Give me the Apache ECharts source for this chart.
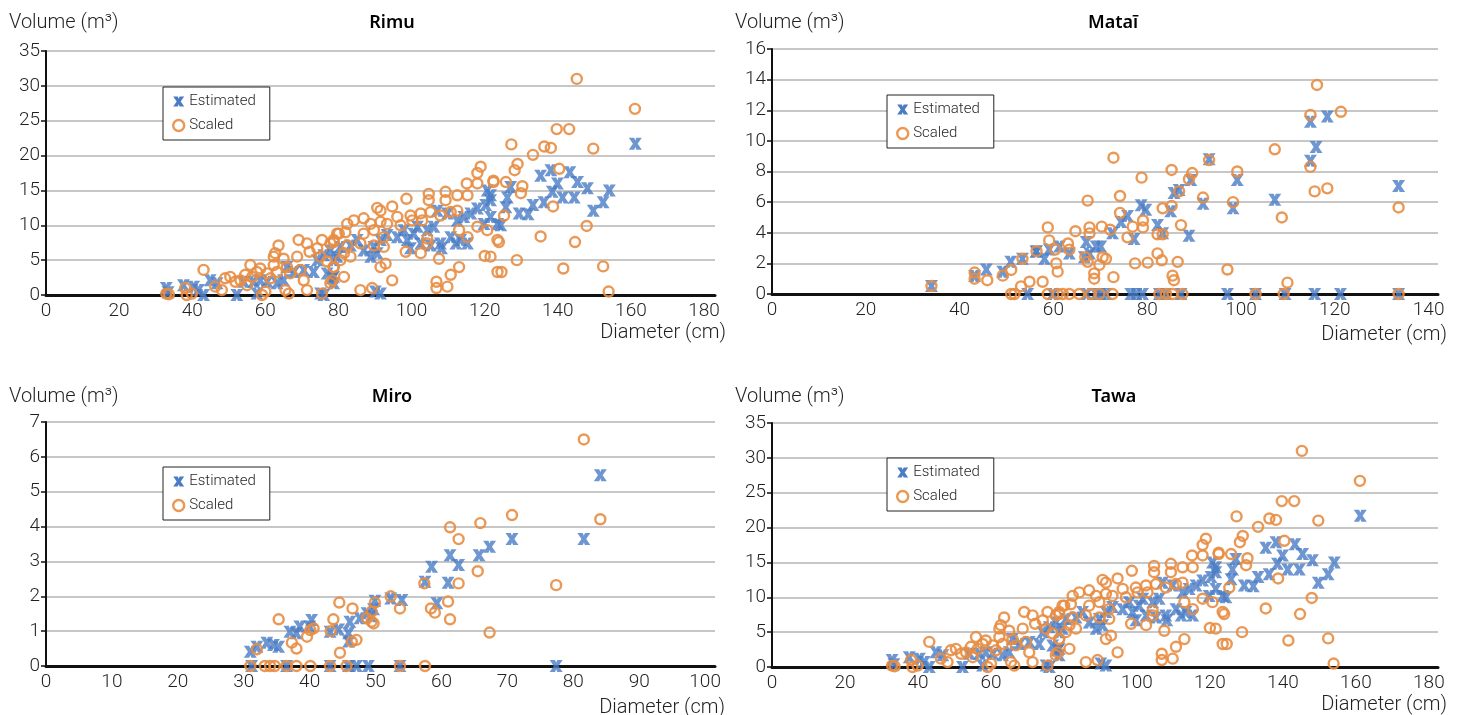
<!DOCTYPE html>
<html lang="en">
<head>
<meta charset="utf-8">
<title>Volume vs diameter</title>
<script src="https://cdn.jsdelivr.net/npm/echarts@6/dist/echarts.min.js"></script>
<style>
    html, body { margin: 0; padding: 0; background: #fff; }
    #main { width: 1464px; height: 715px; }
</style>
</head>
<body>
<div id="main"></div>
<script>
// [diameter (cm), volume (m3)] pairs
// Rimu and Tawa panels show the same points in the source figure
var rimuEstimated = [
    [161.2,21.7],[135.3,17.1],[138.1,17.9],[143.3,17.6],[139.9,16.0],[145.4,16.2],[148.1,15.3],[154.1,15.0],
    [138.5,14.8],[141.3,14.0],[144.5,14.0],[136.2,13.3],[133.2,12.9],[152.4,13.3],[149.7,12.1],[129.4,11.7],
    [131.9,11.6],[126.2,14.0],[127.1,15.5],[125.8,12.6],[124.4,10.0],[121.6,13.6],
    [120.7,15.0],[121.6,14.3],[120.3,12.9],[118,12.4],[116.2,11.7],[121.6,11.2],[123.5,10.2],[119.8,10.2],
    [114.3,11.2],[112.5,10.7],[109.8,11.7],[107,12.1],[106.1,9.8],[104.3,9.3],[101.6,9.8],[100.6,8.8],
    [97.9,9.3],[96.1,8.3],[98.8,7.9],[115.3,7.4],[113.4,7.9],[110.7,8.3],[107.9,7.4],[105.2,7.1],[108.2,6.7],
    [93.3,8.6],[91.5,7.9],[89.7,6.9],[86.9,6.4],[85.1,7.9],[83.3,7.1],[88.8,5.5],[90.6,6.0],[80.5,6.9],
    [77.8,6.4],[79.6,5.5],[78.7,2.6],[90.1,0.5],[91.5,0.2],[99.7,6.7],[102.5,7.4],[112.1,7.4],
    [32.9,1.0],[37.6,1.4],[40.4,1.2],[41.7,0.7],[43.1,0],[44.9,2.1],[46.8,1.7],[57.7,0.2],[52.2,0],
    [54.1,1.9],[56.8,1.9],[58.6,2.1],[60.5,1.9],[63.2,1.7],[65,2.1],[65.9,4.0],[67.8,3.3],[70.5,3.6],
    [73.2,3.3],[74.2,5.0],[76.9,3.1],[76,5.7],[78.7,5.0],[78.3,2.4],[78.7,1.7],[75.1,0.2],[76,0],[33.4,0.4]
];
var rimuScaled = [
    [145.2,31.0],[161.1,26.7],[139.7,23.8],[143.1,23.8],[127.3,21.6],[136.3,21.3],[138.1,21.1],[149.7,21.0],
    [133.2,20.1],[129,18.8],[128.2,17.9],[140.4,18.1],[122.4,16.2],[125.8,16.2],[130.3,15.6],[129.9,14.6],
    [138.7,12.7],[125.3,11.4],[147.9,9.9],[135.3,8.4],[123.9,7.6],[144.7,7.6],[121.6,5.5],[128.8,5.0],
    [124.6,3.3],[141.5,3.8],[152.4,4.1],[153.9,0.5],
    [118.9,18.4],[118,17.5],[115.1,16.0],[118,16.0],[122.4,16.4],[104.7,14.5],[104.7,13.6],[109.3,14.8],
    [109.3,13.6],[112.5,14.3],[115.3,14.3],[98.6,13.8],[94.7,12.7],[90.6,12.5],[91.5,12.1],[99.7,11.4],
    [102.5,11.7],[105.2,11.9],[86.9,11.0],[84.2,10.7],[82.4,10.2],[88.8,10.2],[91.5,10.5],[93.3,10.2],
    [96.1,11.2],[97,10],[100.2,10.7],[102.9,10.7],[110.7,11.9],[112.5,12.1],[107.9,11.4],[79.6,8.8],
    [81.9,9.0],[78.7,7.6],[86.9,8.8],[89.7,9.3],[92.4,8.3],[86,7.4],[89.7,7.1],[92.4,6.9],[82.4,7.1],
    [81.5,6.0],[83.3,5.5],[98.4,6.2],[102.5,6.0],[104.3,8.1],[104.3,7.4],[107.5,5.2],[113,9.3],[115.3,8.3],
    [118,9.8],[120.7,9.3],[123.5,7.9],[120,5.6],[123.5,3.3],[113,4.0],[110.7,2.9],[109.8,1.2],[106.8,1.9],
    [106.8,1.0],[94.7,2.1],[91.5,4.0],[92.9,4.5],[86,0.7],[89.2,1.0],[81.5,2.6],[77.8,1.7],[78.7,4.0],[80.5,5.0],
    [32.9,0.2],[38.1,1.0],[39.9,0.2],[38.5,0],[43.1,3.6],[46.3,1.2],[48.1,0.7],[49,2.4],[50.4,2.6],[51.8,1.9],
    [53.2,2.1],[54.5,2.9],[55,1.4],[56.4,2.6],[57.7,3.3],[55.9,4.3],[58.6,3.8],[60.5,3.1],[61.4,2.4],[60,0.5],
    [59.1,0],[62.3,4.3],[63.2,3.3],[62.3,5.5],[63.6,7.1],[62.7,6.0],[65,5.2],[65.9,4.0],[66.8,3.1],[65.5,0.7],
    [66.4,0.2],[68.7,5.5],[69.1,7.9],[71.4,7.4],[72.1,6.2],[69.6,3.6],[70.5,2.1],[71.4,0.7],[74.2,6.7],
    [75.5,7.9],[77.8,7.4],[78.7,7.9],[75.1,5.5],[76.9,4.8],[78.7,4.0],[78.3,2.1],[80.1,8.8],[75.5,0.2],[33.6,0.1]
];
var tawaEstimated = rimuEstimated;
var tawaScaled = rimuScaled;

var mataiEstimated = [
    [34,0.52],[43.2,1.18],[45.7,1.6],[49.2,1.46],[50.9,2.1],[53.4,2.3],[56.4,2.8],[56.3,2.76],[58.1,2.3],
    [59.1,2.9],[61.3,3.1],[63.4,2.65],[66.6,2.4],[67,3.4],[67.7,2.65],[69.1,3.1],[70.1,3.1],[72.6,3.96],
    [74.4,4.7],[75.8,5.1],[77.2,3.6],[78.7,5.8],[79.7,5.5],[82.2,4.5],[83.3,3.96],[85,5.4],[85.7,6.6],
    [86.8,6.8],[88.9,3.8],[89.3,7.45],[91.9,5.9],[93.2,8.8],[98.3,5.6],[99.2,7.45],[107.2,6.15],[114.8,8.7],
    [114.8,11.25],[116,9.6],[118.4,11.6],[133.6,7.05],
    [54.5,0],[59.9,0],[67,0],[69.1,0],[70.1,0],[71.2,0],[76.5,0],[77.6,0],[79,0],[82.6,0],[84,0],[87.2,0],
    [97.1,0],[103.1,0],[109.4,0],[115.7,0],[121.2,0],[133.6,0]
];
var mataiScaled = [
    [34,0.52],[43.2,1.4],[43.2,1.0],[45.9,0.9],[49.2,1.2],[51,1.57],[53.4,2.3],[56.4,2.8],[53.1,0.5],
    [54.9,0.8],[57.7,0.8],[58.8,4.35],[59.1,3.5],[60.4,2.9],[60.6,2.0],[60.9,1.46],[63.1,3.3],[63.4,2.9],
    [64.7,4.1],[66.8,2.4],[67.3,2.1],[67.3,6.1],[67.7,4.35],[67.7,3.96],[68.7,1.35],[68.7,1.0],[69.8,1.9],
    [70.3,4.4],[70.5,2.4],[71.2,2.3],[72.1,4.2],[72.8,8.9],[72.8,1.1],[74.2,6.4],[74.2,5.3],[75.8,3.7],
    [76.9,4.4],[77.4,2.0],[78.8,7.6],[79.1,4.35],[79.1,4.8],[80.1,2.05],[82.2,3.9],[82.2,2.65],[83.1,2.2],
    [83.3,3.9],[83.3,5.6],[85.2,5.75],[85.2,8.1],[85.4,1.2],[85.7,0.9],[86.5,2.1],[86.8,6.7],[87.2,4.5],
    [88.9,7.5],[89.6,7.9],[91.9,6.3],[93.2,8.75],[97.1,1.6],[98.3,6.0],[99.2,8.0],[107.2,9.45],[108.7,5.0],
    [109.9,0.74],[114.8,11.7],[114.8,8.3],[115.7,6.7],[116.2,13.65],[118.4,6.9],[121.3,11.9],[133.6,5.65],
    [51,0],[51.7,0],[58.8,0],[60.9,0],[62,0],[63.4,0],[65.5,0],[68,0],[69.8,0],[72.6,0],[82.6,0],[84,0],
    [85.4,0],[87.5,0],[103.1,0],[109.1,0],[133.6,0]
];

var miroEstimated = [
    [31,0.41],[32,0.55],[33.5,0.67],[34.5,0.6],[35.3,0.55],[37,0.98],[38,0.94],[38.5,1.13],[40,1.13],
    [40.3,1.32],[43.1,0.98],[44.4,1.05],[45.9,0.94],[45.9,0.7],[46.1,1.27],[47.6,1.37],[48.7,1.51],
    [49.4,1.43],[49.7,1.63],[49.9,1.87],[52.3,1.94],[54,1.89],[57.5,2.42],[58.5,2.85],[59.3,1.8],[61,2.39],
    [61.3,3.18],[62.6,2.9],[65.7,3.18],[67.3,3.42],[70.7,3.64],[81.6,3.64],[84.1,5.47],
    [31.2,0],[36.5,0],[43.1,0],[45.9,0],[47.1,0],[48.9,0],[53.7,0],[77.4,0]
];
var miroScaled = [
    [32,0.48],[35.3,1.34],[37.3,0.67],[38,0.5],[39.6,0.84],[40.1,1.03],[40.6,1.08],[43.2,1.0],[43.6,1.34],
    [44.5,1.82],[44.6,0.38],[46.4,0.7],[47.1,0.75],[46.5,1.65],[48.7,1.37],[49.4,1.27],[49.7,1.22],
    [49.4,1.56],[49.9,1.82],[52.3,2.0],[53.7,1.65],[57.4,2.37],[58.4,1.65],[59,1.53],[61,1.85],[61.3,1.34],
    [61.3,3.98],[62.6,3.64],[62.6,2.37],[65.5,2.72],[65.9,4.1],[67.3,0.96],[70.7,4.33],[77.4,2.32],
    [81.6,6.5],[84.1,4.21],
    [31,0],[33.2,0],[34,0],[34.7,0],[36.5,0],[38,0],[40.1,0],[43.1,0],[45.6,0],[53.7,0],[57.5,0]
];

var panelTitles = ['Rimu', 'Mataī', 'Miro', 'Tawa'];
var xMax = [183, 142, 101.5, 182.5];
var xStep = [20, 20, 10, 20];
var yMax = [35, 16, 7, 35];
var yStep = [5, 2, 1, 5];

var myChart = echarts.init(document.getElementById('main'));

var xPath = 'path://M0,0 L5,0 L6,2.5 L7,0 L12,0 L8.2,5.5 L12,11 L7,11 L6,8.5 L5,11 L0,11 L3.8,5.5 Z';
var blue = '#4a7cc4';
var orange = '#e88d42';
var ink = '#231f20';
var numFont = 'Roboto';

// pixel boxes of the four plots
var grids = [
    { left: 46, top: 51, width: 669, height: 244 },
    { left: 772, top: 49, width: 666, height: 245 },
    { left: 46, top: 422, width: 669, height: 244 },
    { left: 772, top: 423, width: 666, height: 244 }
];
var legendPos = [[163, 87], [887, 95], [163, 467], [887, 458]];
var titlePos = [[392, 23], [1113, 23], [392, 397], [1114, 397]];
var volPos = [[9, 23], [735, 23], [9, 397], [735, 397]];
var diaPos = [[726, 333], [1447, 335], [725, 708], [1447, 705]];

var estData = [rimuEstimated, mataiEstimated, miroEstimated, tawaEstimated];
var scaledData = [rimuScaled, mataiScaled, miroScaled, tawaScaled];

var xAxes = [], yAxes = [], series = [], legends = [], graphics = [];
for (var i = 0; i < 4; i++) {
    (function (i) {
        xAxes.push({
            gridIndex: i, type: 'value', min: 0, max: xMax[i], interval: xStep[i],
            axisLine: { show: true, onZero: false, lineStyle: { color: '#111', width: 3 } },
            axisTick: { show: false },
            splitLine: { show: false },
            axisLabel: {
                color: ink, fontFamily: numFont, fontWeight: 300, fontSize: 19, margin: 7,
                formatter: function (v) { return (v % xStep[i] === 0 && v <= xMax[i]) ? String(v) : ''; }
            }
        });
        yAxes.push({
            gridIndex: i, type: 'value', min: 0, max: yMax[i], interval: yStep[i],
            axisLine: { show: true, lineStyle: { color: '#111', width: 2 } },
            axisTick: { show: true, length: 5, lineStyle: { color: '#111', width: 1.5 } },
            splitLine: { show: true, lineStyle: { color: '#b4b4b4', width: 1.5 } },
            axisLabel: { color: ink, fontFamily: numFont, fontWeight: 300, fontSize: 19, margin: 6 }
        });
        series.push({
            name: 'Estimated', type: 'scatter', xAxisIndex: i, yAxisIndex: i,
            data: estData[i], symbol: xPath, symbolSize: [13, 12],
            itemStyle: { color: blue, opacity: 0.8 }, z: 2
        });
        series.push({
            name: 'Scaled', type: 'scatter', xAxisIndex: i, yAxisIndex: i,
            data: scaledData[i], symbol: 'circle', symbolSize: 10,
            itemStyle: { color: 'rgba(0,0,0,0)', borderColor: orange, borderWidth: 2.4, opacity: 0.9 }, z: 3
        });
        legends.push({
            left: legendPos[i][0], top: legendPos[i][1], orient: 'vertical',
            padding: [7, 14, 7, 9], itemGap: 9, itemWidth: 11, itemHeight: 11,
            borderColor: '#222', borderWidth: 1, backgroundColor: '#fff',
            selectedMode: false,
            textStyle: { color: ink, fontFamily: numFont, fontWeight: 300, fontSize: 15 },
            data: [
                { name: 'Estimated', icon: xPath, itemStyle: { color: blue, opacity: 1 } },
                { name: 'Scaled', icon: 'circle', itemStyle: { color: 'rgba(0,0,0,0)', borderColor: orange, borderWidth: 2.4 } }
            ]
        });
        graphics.push({
            type: 'text', x: titlePos[i][0], y: titlePos[i][1],
            style: { text: panelTitles[i], align: 'center', verticalAlign: 'middle',
                font: '600 18px "Noto Sans"', fill: '#000' }
        });
        graphics.push({
            type: 'text', x: volPos[i][0], y: volPos[i][1],
            style: { text: 'Volume (m³)', align: 'left', verticalAlign: 'middle',
                font: '300 20px Roboto', fill: ink }
        });
        graphics.push({
            type: 'text', x: diaPos[i][0], y: diaPos[i][1],
            style: { text: 'Diameter (cm)', align: 'right', verticalAlign: 'middle',
                font: '300 20px Roboto', fill: ink }
        });
    })(i);
}

var option = {
    backgroundColor: '#fff',
    animation: false,
    grid: grids,
    xAxis: xAxes,
    yAxis: yAxes,
    legend: legends,
    series: series,
    graphic: graphics
};
myChart.setOption(option);
</script>
</body>
</html>
